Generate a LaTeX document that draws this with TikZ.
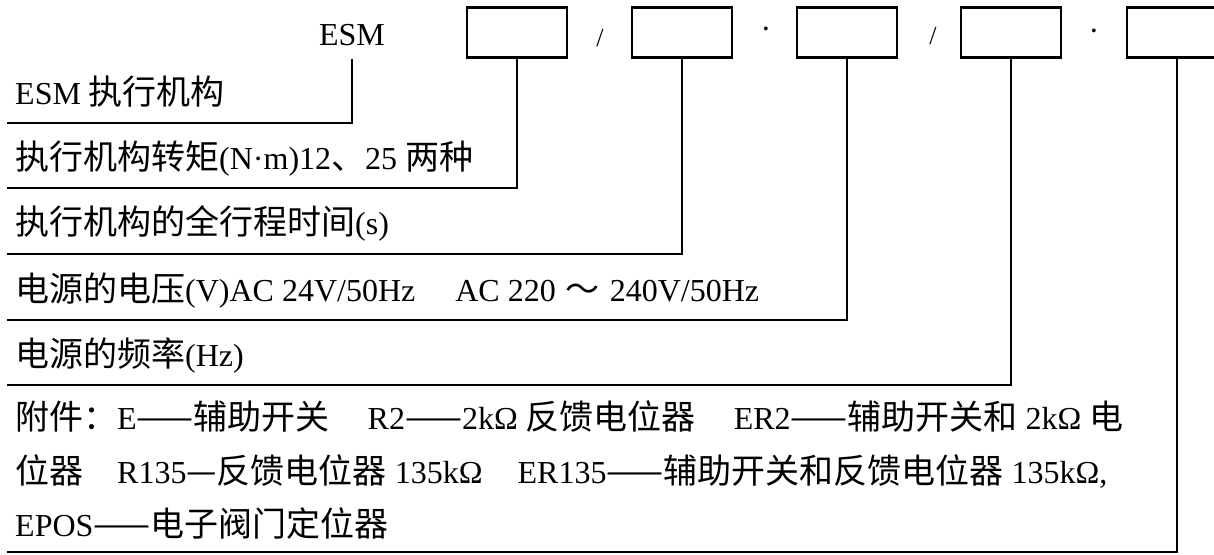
\documentclass[tikz,border=0pt]{standalone}
\usepackage{fontspec}
\setmainfont{Liberation Serif}
\newfontfamily\cjk{Noto Sans CJK SC}
\newcommand{\zh}[1]{{\cjk\fontsize{34}{36}\selectfont #1}}
\begin{document}
\begin{tikzpicture}[x=1pt,y=-1pt,
  lbl/.style={anchor=base west, inner sep=0pt, font=\fontsize{32}{36}\selectfont},
  codebox/.style={draw, line width=2.4pt, minimum width=100pt, minimum height=50pt, inner sep=0pt},
  lead/.style={line width=2.4pt, line join=miter},
  sepmark/.style={inner sep=0pt, font=\fontsize{26}{28}\selectfont}]
\useasboundingbox (0,0) rectangle (1214,554);
\clip (0,0) rectangle (1214,554);
% header
\node[anchor=base, inner sep=0pt, inner ysep=12.5pt, font=\fontsize{32}{36}\selectfont] (esm) at (352,45.5) {ESM};
\node[codebox] (b1) at (517,32.5) {};
\node[codebox] (b2) at (682,32.5) {};
\node[codebox] (b3) at (847,32.5) {};
\node[codebox] (b4) at (1011,32.5) {};
\node[codebox] (b5) at (1177,32.5) {};
\node[sepmark] (s1) at (600,38) {/};
\node[sepmark, font=\fontsize{32}{36}\selectfont] (d1) at (766,33) {\textperiodcentered};
\node[sepmark] (s2) at (933,36) {/};
\node[sepmark, font=\fontsize{32}{36}\selectfont] (d2) at (1094,35) {\textperiodcentered};
% left ends of leaders
\coordinate (e1) at (7,123);
\coordinate (e2) at (7,188);
\coordinate (e3) at (7,254);
\coordinate (e4) at (7,320);
\coordinate (e5) at (7,385);
\coordinate (e6) at (7,552);
\draw[lead] (esm.south) |- (e1);
\draw[lead] (b1.south) |- (e2);
\draw[lead] (b2.south) |- (e3);
\draw[lead] (b3.south) |- (e4);
\draw[lead] (b4.south) |- (e5);
\draw[lead] (b5.south) |- (e6);
% texts
\node[lbl] (t1) at (15,104.5) {ESM \zh{执行机构}};
\node[lbl] (t2) at (15,169.5) {\zh{执行机构转矩}(N·m)12\zh{、}25 \zh{两种}};
\node[lbl] (t3) at (15,234.5) {\zh{执行机构的全行程时间}(s)};
\node[lbl] (t4) at (15,301.5) {\zh{电源的电压}(V)AC 24V/50Hz\hspace{40pt}AC 220\hspace{10pt}\zh{～}\hspace{10pt}240V/50Hz};
\node[lbl] (t5) at (15,366.5) {\zh{电源的频率}(Hz)};
\node[lbl] (t6) at (15,429.5) {\zh{附件：}E\zh{——辅助开关}\hspace{38pt}R2\zh{——}2kΩ \zh{反馈电位器}\hspace{38pt}ER2\zh{——辅助开关和} 2kΩ \zh{电}};
\node[lbl] (t7) at (15,483.5) {\zh{位器}\hspace{34pt}R135\zh{—反馈电位器} 135kΩ\hspace{35pt}ER135\zh{——辅助开关和反馈电位器} 135kΩ,};
\node[lbl] (t8) at (15,536.5) {EPOS\zh{——电子阀门定位器}};
\end{tikzpicture}
\end{document}
